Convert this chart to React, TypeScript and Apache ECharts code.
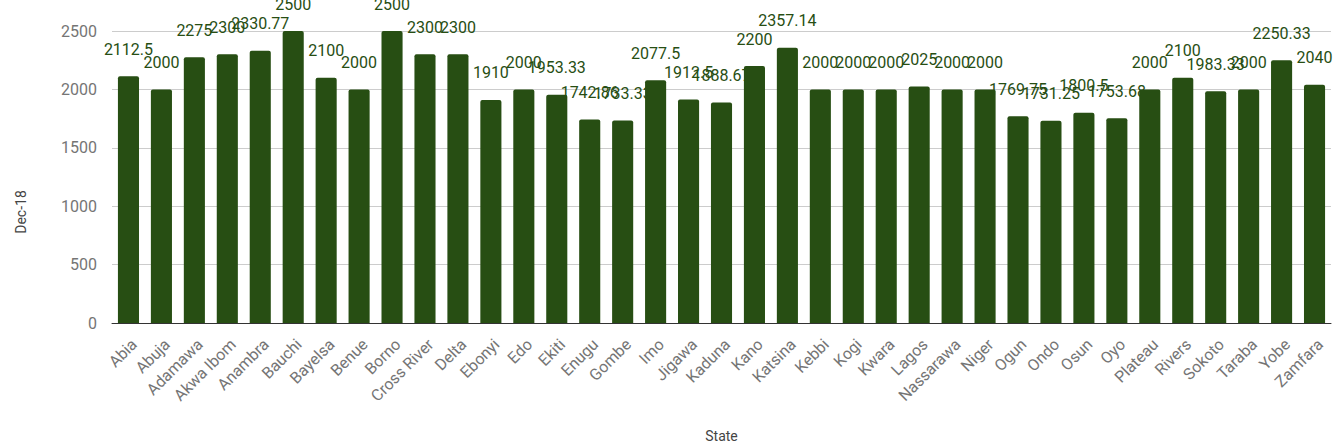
import React, { useEffect, useRef } from "react";
import * as echarts from "echarts";

const states = [
  "Abia", "Abuja", "Adamawa", "Akwa Ibom", "Anambra", "Bauchi", "Bayelsa", "Benue", "Borno",
  "Cross River", "Delta", "Ebonyi", "Edo", "Ekiti", "Enugu", "Gombe", "Imo", "Jigawa", "Kaduna",
  "Kano", "Katsina", "Kebbi", "Kogi", "Kwara", "Lagos", "Nassarawa", "Niger", "Ogun", "Ondo",
  "Osun", "Oyo", "Plateau", "Rivers", "Sokoto", "Taraba", "Yobe", "Zamfara",
];

const dec18 = [
  2112.5, 2000, 2275, 2300, 2330.77, 2500, 2100, 2000, 2500,
  2300, 2300, 1910, 2000, 1953.33, 1742.86, 1733.33, 2077.5, 1912.5, 1888.67,
  2200, 2357.14, 2000, 2000, 2000, 2025, 2000, 2000, 1769.75, 1731.25,
  1800.5, 1753.68, 2000, 2100, 1983.33, 2000, 2250.33, 2040,
];

const yTicks = { min: 0, max: 2500, interval: 500 };

export default function App() {
  const ref = useRef<HTMLDivElement>(null);
  useEffect(() => {
    document.body.style.margin = "0";
    const chart = echarts.init(ref.current!, null, { renderer: "svg" });
    chart.setOption({
      animation: false,
      textStyle: { fontFamily: "Roboto" },
      grid: {
        left: 112,
        right: 5,
        top: 31,
        bottom: 123,
        containLabel: false,
        outerBoundsMode: "none",
      },
      xAxis: {
        type: "category",
        data: states,
        name: "State",
        nameLocation: "middle",
        nameGap: 106,
        nameTextStyle: { color: "#444", fontSize: 14, fontFamily: "Roboto" },
        axisTick: { show: false },
        axisLine: { lineStyle: { color: "#333", width: 1 } },
        axisLabel: {
          rotate: 45,
          interval: 0,
          color: "#757575",
          fontSize: 16,
          margin: 13,
          verticalAlign: "top",
          fontFamily: "Roboto",
        },
      },
      yAxis: {
        type: "value",
        min: yTicks.min,
        max: yTicks.max,
        interval: yTicks.interval,
        name: "Dec-18",
        nameLocation: "middle",
        nameGap: 84,
        nameTextStyle: {
          color: "#444",
          fontSize: 14,
          fontFamily: "Roboto",
          padding: [0, 70, 0, 0],
        },
        axisLabel: {
          color: "#757575",
          fontSize: 16,
          margin: 15,
          fontFamily: "Roboto",
          formatter: (v: number) => String(v),
        },
        splitLine: { lineStyle: { color: "#cccccc" } },
        axisLine: { show: false },
        axisTick: { show: false },
      },
      series: [
        {
          type: "bar",
          data: dec18,
          barCategoryGap: "36%",
          itemStyle: { color: "#274e13", borderRadius: [2, 2, 0, 0] },
          label: {
            show: true,
            position: "top",
            distance: 19,
            color: "#274e13",
            fontSize: 16,
            fontFamily: "Roboto",
          },
        },
      ],
    });
    return () => chart.dispose();
  }, []);
  return <div ref={ref} style={{ width: 1336, height: 446 }} />;
}
